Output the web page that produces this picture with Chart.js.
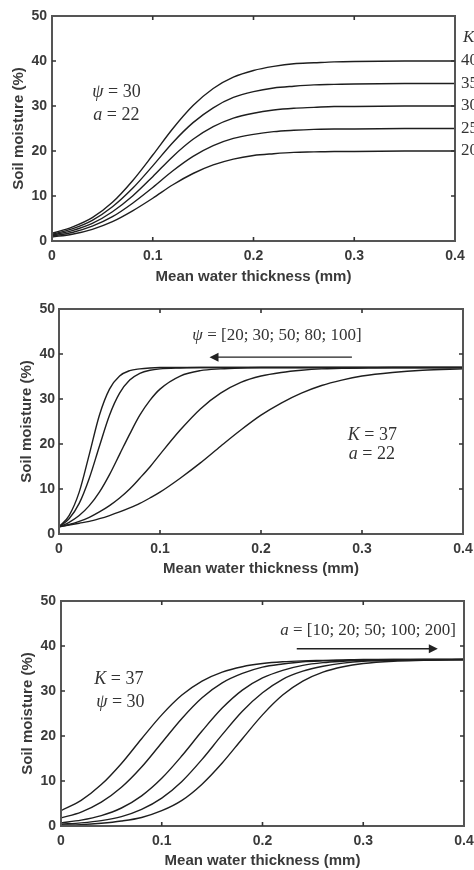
<!DOCTYPE html>
<html>
<head>
<meta charset="utf-8">
<script src="https://cdn.jsdelivr.net/npm/chart.js@4.4.0/dist/chart.umd.min.js"></script>
<style>
  html, body { margin: 0; padding: 0; background: #fff; }
  .panel { position: absolute; left: 0; width: 474px; height: 290px; }
</style>
</head>
<body>
<div class="panel" style="top:0"><canvas id="chartK" width="474" height="290"></canvas></div>
<div class="panel" style="top:290px"><canvas id="chartPsi" width="474" height="290"></canvas></div>
<div class="panel" style="top:580px"><canvas id="chartA" width="474" height="290"></canvas></div>
<script>
// tick labels
const xTicks = [0, 0.1, 0.2, 0.3, 0.4];
const yTicks = [0, 10, 20, 30, 40, 50];

// panel 1: K varies (psi = 30, a = 22)
const xsK = [0, 0.02, 0.04, 0.06, 0.08, 0.1, 0.12, 0.14, 0.16, 0.18, 0.2, 0.22, 0.24, 0.26, 0.28, 0.3, 0.35, 0.4];
const kLabels = [40, 35, 30, 25, 20];
const moistK40 = [1.7, 3.1, 5.2, 8.6, 13.4, 19.1, 25.0, 30.1, 33.9, 36.4, 37.9, 38.8, 39.4, 39.6, 39.8, 39.9, 40.0, 40.0];
const moistK35 = [1.5, 2.7, 4.6, 7.6, 11.7, 16.7, 21.9, 26.3, 29.6, 31.9, 33.2, 34.0, 34.4, 34.7, 34.8, 34.9, 35.0, 35.0];
const moistK30 = [1.3, 2.3, 3.9, 6.5, 10.0, 14.3, 18.8, 22.6, 25.4, 27.3, 28.4, 29.1, 29.5, 29.7, 29.9, 29.9, 30.0, 30.0];
const moistK25 = [1.1, 1.9, 3.3, 5.4, 8.4, 11.9, 15.6, 18.8, 21.2, 22.8, 23.7, 24.3, 24.6, 24.8, 24.9, 24.9, 25.0, 25.0];
const moistK20 = [0.9, 1.5, 2.6, 4.3, 6.7, 9.5, 12.5, 15.0, 16.9, 18.2, 19.0, 19.4, 19.7, 19.8, 19.9, 19.9, 20.0, 20.0];

// panel 2: psi varies (K = 37, a = 22)
const xsPsi = [0, 0.01, 0.02, 0.03, 0.04, 0.05, 0.06, 0.07, 0.08, 0.09, 0.1, 0.12, 0.14, 0.16, 0.18, 0.2, 0.22, 0.24, 0.26, 0.28, 0.3, 0.33, 0.36, 0.4];
const moistPsi100 = [1.6, 4.1, 9.3, 17.7, 26.4, 32.2, 35.1, 36.3, 36.7, 36.9, 37.0, 37.0, 37.0, 37.0, 37.0, 37.0, 37.0, 37.0, 37.0, 37.0, 37.0, 37.0, 37.0, 37.0];
const moistPsi80 = [1.6, 3.4, 6.8, 12.4, 19.5, 26.4, 31.3, 34.2, 35.7, 36.4, 36.7, 36.9, 37.0, 37.0, 37.0, 37.0, 37.0, 37.0, 37.0, 37.0, 37.0, 37.0, 37.0, 37.0];
const moistPsi50 = [1.6, 2.6, 4.1, 6.3, 9.3, 13.2, 17.7, 22.2, 26.4, 29.7, 32.2, 35.1, 36.3, 36.7, 36.9, 37.0, 37.0, 37.0, 37.0, 37.0, 37.0, 37.0, 37.0, 37.0];
const moistPsi30 = [1.6, 2.1, 2.8, 3.7, 4.9, 6.3, 8.0, 10.0, 12.4, 14.9, 17.7, 23.1, 27.8, 31.3, 33.7, 35.1, 35.9, 36.4, 36.7, 36.8, 36.9, 37.0, 37.0, 37.0];
const moistPsi20 = [1.6, 2.0, 2.4, 2.8, 3.4, 4.1, 4.9, 5.8, 6.8, 8.0, 9.3, 12.4, 15.8, 19.5, 23.1, 26.4, 29.1, 31.3, 33.0, 34.2, 35.1, 35.9, 36.4, 36.7];

// panel 3: a varies (K = 37, psi = 30)
const xsA = [0, 0.02, 0.04, 0.06, 0.08, 0.1, 0.12, 0.14, 0.16, 0.18, 0.2, 0.22, 0.24, 0.26, 0.28, 0.3, 0.33, 0.36, 0.4];
const moistA10 = [3.4, 5.7, 9.2, 13.9, 19.4, 24.7, 29.1, 32.2, 34.2, 35.4, 36.1, 36.5, 36.7, 36.8, 36.9, 37.0, 37.0, 37.0, 37.0];
const moistA20 = [1.8, 3.1, 5.3, 8.6, 13.1, 18.5, 23.9, 28.5, 31.8, 33.9, 35.3, 36.0, 36.5, 36.7, 36.8, 36.9, 37.0, 37.0, 37.0];
const moistA50 = [0.7, 1.3, 2.3, 4.0, 6.7, 10.6, 15.6, 21.1, 26.2, 30.2, 32.9, 34.6, 35.7, 36.3, 36.6, 36.8, 36.9, 37.0, 37.0];
const moistA100 = [0.4, 0.7, 1.2, 2.1, 3.7, 6.2, 9.9, 14.8, 20.3, 25.5, 29.6, 32.6, 34.4, 35.5, 36.2, 36.6, 36.8, 36.9, 37.0];
const moistA200 = [0.2, 0.3, 0.6, 1.1, 1.9, 3.4, 5.7, 9.3, 14.0, 19.4, 24.7, 29.1, 32.2, 34.2, 35.4, 36.1, 36.6, 36.8, 37.0];

const TEXT = '#3a3a3a';
const LINE = '#1e1e1e';
const SANS = '"Liberation Sans", Arial, sans-serif';
const SERIF = '"Liberation Serif", "DejaVu Serif", serif';

function toPoints(xs, ys) {
    return xs.map((x, i) => ({x: x, y: ys[i]}));
}

function lineSet(xs, ys) {
    return {
        data: toPoints(xs, ys),
        borderColor: LINE,
        borderWidth: 1.4,
        pointRadius: 0,
        fill: false,
        cubicInterpolationMode: 'monotone'
    };
}

// draws "ψ = 30" style text, parts = [[text, italic], ...]
function drawParts(ctx, parts, x, y, size) {
    ctx.textBaseline = 'middle';
    ctx.textAlign = 'left';
    ctx.fillStyle = '#333';
    let cx = x;
    parts.forEach(p => {
        ctx.font = (p[1] ? 'italic ' : '') + size + 'px ' + SERIF;
        ctx.fillText(p[0], cx, y);
        cx += ctx.measureText(p[0]).width;
    });
}

function drawArrow(ctx, x1, y1, x2, y2) {
    const dir = Math.sign(x2 - x1);
    ctx.strokeStyle = '#222';
    ctx.fillStyle = '#222';
    ctx.lineWidth = 1.4;
    ctx.beginPath();
    ctx.moveTo(x1, y1);
    ctx.lineTo(x2 - dir * 8, y2);
    ctx.stroke();
    ctx.beginPath();
    ctx.moveTo(x2, y2);
    ctx.lineTo(x2 - dir * 9, y2 - 4.5);
    ctx.lineTo(x2 - dir * 9, y2 + 4.5);
    ctx.closePath();
    ctx.fill();
}

// box around the axes with inward ticks on all sides, plus text notes
const framePlugin = {
    id: 'notes',
    afterDraw(chart, args, opts) {
        const ctx = chart.ctx;
        const a = chart.chartArea;
        const xs = chart.scales.x, ys = chart.scales.y;
        ctx.save();
        ctx.strokeStyle = '#555';
        ctx.lineWidth = 2;
        ctx.strokeRect(a.left, a.top, a.right - a.left, a.bottom - a.top);
        ctx.strokeStyle = '#333';
        ctx.lineWidth = 1.6;
        ctx.beginPath();
        xTicks.slice(1, -1).forEach(v => {
            const px = xs.getPixelForValue(v);
            ctx.moveTo(px, a.bottom); ctx.lineTo(px, a.bottom - 4);
            ctx.moveTo(px, a.top); ctx.lineTo(px, a.top + 4);
        });
        yTicks.slice(1, -1).forEach(v => {
            const py = ys.getPixelForValue(v);
            ctx.moveTo(a.left, py); ctx.lineTo(a.left + 4, py);
            ctx.moveTo(a.right, py); ctx.lineTo(a.right - 4, py);
        });
        ctx.stroke();

        (opts.texts || []).forEach(t => {
            drawParts(ctx, t.parts, xs.getPixelForValue(t.x), ys.getPixelForValue(t.y), t.size || 18);
        });
        (opts.arrows || []).forEach(r => {
            drawArrow(ctx, xs.getPixelForValue(r[0]), ys.getPixelForValue(r[1]),
                      xs.getPixelForValue(r[2]), ys.getPixelForValue(r[1]));
        });
        if (opts.sideLabels) {
            const sx = a.right + 6;
            drawParts(ctx, [['K', true]], sx + 2, ys.getPixelForValue(45.3), 17);
            opts.sideLabels.forEach(k => {
                drawParts(ctx, [[String(k), false]], sx, ys.getPixelForValue(k), 17);
            });
        }
        ctx.restore();
    }
};

function makeChart(id, datasets, cfg, notes) {
    return new Chart(document.getElementById(id), {
        type: 'line',
        data: {datasets: datasets},
        plugins: [framePlugin],
        options: {
            responsive: false,
            animation: false,
            devicePixelRatio: 1,
            layout: {padding: {top: cfg.top, right: cfg.right, bottom: 0, left: 0}},
            plugins: {legend: {display: false}, tooltip: {enabled: false}, notes: notes},
            scales: {
                x: {
                    type: 'linear', min: 0, max: 0.4,
                    afterBuildTicks: s => { s.ticks = xTicks.map(v => ({value: v})); },
                    afterFit: s => { s.height = cfg.xHeight; s.paddingLeft = 0; s.paddingRight = 0; },
                    grid: {display: false, drawTicks: false},
                    border: {display: false},
                    ticks: {
                        padding: 7, color: TEXT, maxRotation: 0,
                        font: {family: SANS, size: 14, weight: 'bold'},
                        callback: v => v === 0 ? '0' : v.toFixed(1)
                    },
                    title: {
                        display: true, text: 'Mean water thickness (mm)', color: TEXT,
                        font: {family: SANS, size: 15, weight: 'bold', lineHeight: 1.2},
                        padding: {top: 0, bottom: cfg.xTitlePad}
                    }
                },
                y: {
                    min: 0, max: 50,
                    afterBuildTicks: s => { s.ticks = yTicks.map(v => ({value: v})); },
                    afterFit: s => { s.width = cfg.yWidth; s.paddingTop = 0; s.paddingBottom = 0; },
                    grid: {display: false, drawTicks: false},
                    border: {display: false},
                    ticks: {
                        padding: cfg.yTickPad, color: TEXT,
                        font: {family: SANS, size: 14, weight: 'bold'}
                    },
                    title: {
                        display: true, text: 'Soil moisture (%)', color: TEXT,
                        font: {family: SANS, size: 15, weight: 'bold', lineHeight: 1.2},
                        padding: {top: cfg.yTitlePad, bottom: 0}
                    }
                }
            }
        }
    });
}

makeChart('chartK',
    [moistK40, moistK35, moistK30, moistK25, moistK20].map(d => lineSet(xsK, d)),
    {top: 16, right: 19, xHeight: 49, xTitlePad: 4, yWidth: 52, yTickPad: 5, yTitlePad: 10},
    {
        texts: [
            {x: 0.040, y: 33.1, parts: [['ψ', true], [' = 30', false]]},
            {x: 0.041, y: 28.0, parts: [['a', true], [' = 22', false]]}
        ],
        sideLabels: kLabels
    });

makeChart('chartPsi',
    [moistPsi100, moistPsi80, moistPsi50, moistPsi30, moistPsi20].map(d => lineSet(xsPsi, d)),
    {top: 19, right: 11, xHeight: 46, xTitlePad: 2, yWidth: 59, yTickPad: 4, yTitlePad: 18},
    {
        texts: [
            {x: 0.132, y: 44.2, size: 17, parts: [['ψ', true], [' = [20; 30; 50; 80; 100]', false]]},
            {x: 0.286, y: 21.9, parts: [['K', true], [' = 37', false]]},
            {x: 0.287, y: 17.7, parts: [['a', true], [' = 22', false]]}
        ],
        arrows: [[0.29, 39.3, 0.149]]
    });

makeChart('chartA',
    [moistA10, moistA20, moistA50, moistA100, moistA200].map(d => lineSet(xsA, d)),
    {top: 21, right: 10, xHeight: 44, xTitlePad: 0, yWidth: 61, yTickPad: 5, yTitlePad: 19},
    {
        texts: [
            {x: 0.2175, y: 43.5, size: 17, parts: [['a', true], [' = [10; 20; 50; 100; 200]', false]]},
            {x: 0.033, y: 32.5, parts: [['K', true], [' = 37', false]]},
            {x: 0.035, y: 27.6, parts: [['ψ', true], [' = 30', false]]}
        ],
        arrows: [[0.234, 39.4, 0.374]]
    });
</script>
</body>
</html>
